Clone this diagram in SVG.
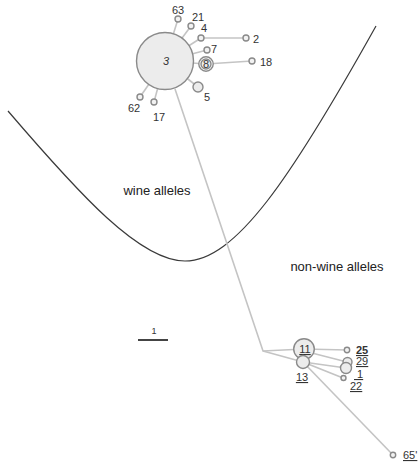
<svg xmlns="http://www.w3.org/2000/svg" width="419" height="470" viewBox="0 0 419 470">
  <style>
    .edge { stroke: #c4c4c4; stroke-width: 1.6; fill: none; }
    .node { fill: #ececec; stroke: #8a8a8a; stroke-width: 1.4; }
    .small { fill: #f2f2f2; stroke: #8a8a8a; stroke-width: 1.4; }
    .lbl { font-family: "Liberation Sans", Arial, sans-serif; font-size: 11px; fill: #333; }
    .mid { text-anchor: middle; }
    .ul { text-decoration: underline; }
    .region { font-family: "Liberation Sans", Arial, sans-serif; font-size: 13px; fill: #222; }
    .border { fill: none; stroke: #3a3a3a; stroke-width: 1.2; }
  </style>

  <rect width="419" height="470" fill="#ffffff"/>

  <!-- boundary between the two allele groups -->
  <path class="border" d="M8,111 C80,195 140,261 185,261 C235,261 290,180 376,26"/>

  <text class="region mid" x="157" y="195">wine alleles</text>
  <text class="region mid" x="337" y="271">non-wine alleles</text>

  <!-- scale bar -->
  <g id="scale">
    <text class="lbl mid" x="154" y="334" style="font-size:9px">1</text>
    <line x1="138" y1="340" x2="168" y2="340" stroke="#444" stroke-width="2"/>
  </g>

  <g id="connectors">
    <line class="edge" x1="165" y1="61" x2="178" y2="19"/>
    <line class="edge" x1="165" y1="61" x2="191" y2="26"/>
    <line class="edge" x1="165" y1="61" x2="201" y2="38"/>
    <line class="edge" x1="201" y1="38" x2="246" y2="38"/>
    <line class="edge" x1="165" y1="61" x2="207" y2="50"/>
    <line class="edge" x1="165" y1="61" x2="206" y2="64"/>
    <line class="edge" x1="206" y1="64" x2="252" y2="61"/>
    <line class="edge" x1="165" y1="61" x2="198" y2="87"/>
    <line class="edge" x1="165" y1="61" x2="140" y2="97"/>
    <line class="edge" x1="165" y1="61" x2="154" y2="102"/>
    <polyline class="edge" points="175,89 263,351 304,349"/>
    <line class="edge" x1="263" y1="351" x2="303" y2="362"/>
    <line class="edge" x1="304" y1="349" x2="347" y2="350"/>
    <line class="edge" x1="304" y1="351" x2="347" y2="362"/>
    <line class="edge" x1="303" y1="362" x2="346" y2="368"/>
    <line class="edge" x1="303" y1="362" x2="343" y2="378"/>
    <line class="edge" x1="303" y1="362" x2="393" y2="455"/>
  </g>

  <g id="n3">
    <circle class="node" cx="165" cy="61" r="28.5"/>
    <text class="lbl mid" x="166" y="65" font-style="italic">3</text>
  </g>
  <g id="n63">
    <circle class="small" cx="178" cy="19" r="3"/>
    <text class="lbl mid" x="178" y="14">63</text>
  </g>
  <g id="n21">
    <circle class="small" cx="191" cy="26" r="3"/>
    <text class="lbl mid" x="198" y="21">21</text>
  </g>
  <g id="n4">
    <circle class="small" cx="201" cy="38" r="3"/>
    <text class="lbl mid" x="204" y="32">4</text>
  </g>
  <g id="n2">
    <circle class="small" cx="246" cy="38" r="3"/>
    <text class="lbl" x="253" y="43">2</text>
  </g>
  <g id="n7">
    <circle class="small" cx="207" cy="50" r="3"/>
    <text class="lbl" x="211" y="53">7</text>
  </g>
  <g id="n8">
    <circle cx="206" cy="64" r="7.2" fill="#ffffff" stroke="#8a8a8a" stroke-width="1.4"/>
    <circle class="node" cx="206" cy="64" r="5"/>
    <text class="lbl mid" x="206" y="68">8</text>
  </g>
  <g id="n18">
    <circle class="small" cx="252" cy="61" r="3"/>
    <text class="lbl" x="260" y="66">18</text>
  </g>
  <g id="n5">
    <circle class="node" cx="198" cy="87" r="5"/>
    <text class="lbl" x="204" y="101">5</text>
  </g>
  <g id="n62">
    <circle class="small" cx="140" cy="97" r="3"/>
    <text class="lbl mid" x="134" y="112">62</text>
  </g>
  <g id="n17">
    <circle class="small" cx="154" cy="102" r="3"/>
    <text class="lbl mid" x="159" y="121">17</text>
  </g>

  <g id="n11">
    <circle class="node" cx="304" cy="349" r="10.3"/>
    <text class="lbl mid ul" x="305" y="353">11</text>
  </g>
  <g id="n13">
    <circle class="node" cx="303" cy="362" r="6.5"/>
    <text class="lbl mid ul" x="302" y="381">13</text>
  </g>
  <g id="n25">
    <circle class="small" cx="347" cy="350" r="2.7"/>
    <text class="lbl ul" x="356" y="354" font-weight="bold">25</text>
  </g>
  <g id="n29">
    <circle class="node" cx="347.5" cy="362" r="4.5"/>
    <text class="lbl ul" x="356" y="365">29</text>
  </g>
  <g id="n1">
    <circle class="node" cx="346" cy="368" r="5.5"/>
    <text class="lbl ul" x="354" y="378">&#160;1</text>
  </g>
  <g id="n22">
    <circle class="small" cx="343.5" cy="378" r="2.5"/>
    <text class="lbl ul" x="350" y="390">22</text>
  </g>
  <g id="n65">
    <circle class="small" cx="393" cy="455" r="2.7"/>
    <text class="lbl ul" x="403" y="459">65'</text>
  </g>
</svg>
